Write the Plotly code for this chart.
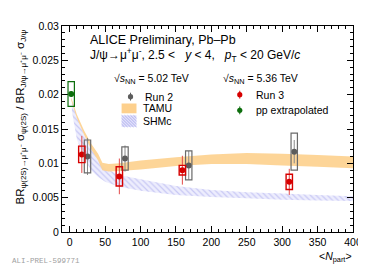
import plotly.graph_objects as go

# ---------------- data ----------------
run2_npart = [25, 78, 168, 317]
run2_val = [0.0110, 0.0107, 0.0097, 0.0117]
run2_stat = [0.0027, 0.0019, 0.0021, 0.0017]
run2_sys = [0.0024, 0.0017, 0.0021, 0.0027]

run3_npart = [17, 70, 159, 310]
run3_val = [0.0113, 0.0081, 0.0090, 0.0073]
run3_stat = [0.0027, 0.0026, 0.0021, 0.0019]
run3_sys = [0.0012, 0.0014, 0.0007, 0.0011]

pp_npart = [2]
pp_val = [0.0201]
pp_stat = [0.0004]
pp_sys = [0.0018]

tamu_npart = [2, 10, 20, 30, 40, 46, 55, 70, 100, 150, 200, 250, 300, 350, 400]
tamu_lo = [0.0192, 0.0166, 0.0142, 0.0121, 0.0104, 0.0090, 0.0088, 0.0089, 0.0091,
           0.0096, 0.0099, 0.0099, 0.0097, 0.0095, 0.0093]
tamu_hi = [0.0196, 0.0171, 0.0148, 0.0129, 0.0114, 0.0101, 0.0099, 0.0100, 0.0104,
           0.0109, 0.0113, 0.0115, 0.0114, 0.0112, 0.0110]

shm_npart = [3, 10, 20, 30, 40, 50, 70, 100, 150, 200, 250, 300, 350, 400]
shm_hi = [0.0192, 0.0168, 0.0142, 0.0122, 0.0105, 0.0093, 0.0083, 0.0077, 0.0067,
          0.0061, 0.0058, 0.0056, 0.0054, 0.0052]
shm_lo = [0.0176, 0.0135, 0.0108, 0.0090, 0.0080, 0.0073, 0.0066, 0.0060, 0.0054,
          0.0051, 0.0049, 0.0047, 0.0046, 0.0045]

y_tickvals = [0, 0.005, 0.01, 0.015, 0.02, 0.025, 0.03]
y_ticktext = ["0", "0.005", "0.01", "0.015", "0.02", "0.025", "0.03"]
x_tickvals = [0, 50, 100, 150, 200, 250, 300, 350, 400]

# ---------------- styles ----------------
W, H = 366, 264
ML, MR, MT, MB = 54, 19, 14, 40
PW, PH = W - ML - MR, H - MT - MB
FONT = "Liberation Sans, Arial, Helvetica, sans-serif"

GRAY = "#5c5c5c"
GRAY_BOX = "#6a6a6a"
RED = "#d60000"
RED_BAR = "#e34a4a"
GREEN = "#0d6e0d"
ORANGE = "#fdd08d"
BLUE_FG = "#a4a4ec"
BLUE_BG = "rgba(222,222,250,0.55)"
BOX_HW = 4.5


def px(xp):
    return (xp - ML) / PW


def py(yp):
    return (H - MB - yp) / PH


fig = go.Figure()

# SHMc band (hatched)
fig.add_trace(go.Scatter(
    x=shm_npart + shm_npart[::-1], y=shm_hi + shm_lo[::-1],
    fill="toself", mode="none", fillcolor=BLUE_BG,
    fillpattern=dict(shape="\\", fgcolor=BLUE_FG, bgcolor=BLUE_BG, size=4, solidity=0.3),
    hoverinfo="skip", showlegend=False))

# TAMU band
fig.add_trace(go.Scatter(
    x=tamu_npart + tamu_npart[::-1], y=tamu_hi + tamu_lo[::-1],
    fill="toself", mode="none", fillcolor=ORANGE, opacity=0.9,
    hoverinfo="skip", showlegend=False))

shapes = []


def sys_boxes(xs, ys, ss, color, width):
    for x, y, s in zip(xs, ys, ss):
        shapes.append(dict(type="rect", xref="x", yref="y",
                           x0=x - BOX_HW, x1=x + BOX_HW, y0=y - s, y1=y + s,
                           line=dict(color=color, width=width), fillcolor="rgba(0,0,0,0)"))


sys_boxes(run2_npart, run2_val, run2_sys, GRAY_BOX, 1.2)
sys_boxes(run3_npart, run3_val, run3_sys, RED, 1.4)
sys_boxes(pp_npart, pp_val, pp_sys, GREEN, 1.2)

fig.add_trace(go.Scatter(
    x=run2_npart, y=run2_val, mode="markers",
    marker=dict(color=GRAY, size=6),
    error_y=dict(type="data", array=run2_stat, color="#8a8a8a", thickness=1, width=0),
    showlegend=False))
fig.add_trace(go.Scatter(
    x=run3_npart, y=run3_val, mode="markers",
    marker=dict(color=RED, size=6),
    error_y=dict(type="data", array=run3_stat, color=RED_BAR, thickness=1, width=0),
    showlegend=False))
fig.add_trace(go.Scatter(
    x=pp_npart, y=pp_val, mode="markers",
    marker=dict(color=GREEN, size=6),
    error_y=dict(type="data", array=pp_stat, color=GREEN, thickness=1, width=0),
    showlegend=False))

# ---------------- legend (drawn by hand) ----------------
shapes.append(dict(type="rect", xref="paper", yref="paper",
                   x0=px(114), x1=px(129), y0=py(103), y1=py(93),
                   line=dict(width=0), fillcolor=ORANGE))
shapes.append(dict(type="rect", xref="paper", yref="paper",
                   x0=px(114), x1=px(129), y0=py(117), y1=py(105),
                   line=dict(width=0), fillcolor="rgba(222,222,250,0.9)"))
for k in range(-3, 6):
    xa = 114 + k * 3
    xb = xa + 12
    x0, y0, x1, y1 = xa, 105, xb, 117
    if x0 < 114:
        y0 = 105 + (114 - x0); x0 = 114
    if x1 > 129:
        y1 = 117 - (x1 - 129); x1 = 129
    if x1 > x0 and y1 > y0:
        shapes.append(dict(type="line", xref="paper", yref="paper",
                           x0=px(x0), y0=py(y0), x1=px(x1), y1=py(y1),
                           line=dict(color=BLUE_FG, width=0.8)))

for (cx, cy, col) in [(123, 86, GRAY), (233, 84, RED), (233, 100, GREEN)]:
    shapes.append(dict(type="line", xref="paper", yref="paper",
                       x0=px(cx), x1=px(cx), y0=py(cy - 4), y1=py(cy + 4),
                       line=dict(color=col, width=1)))
    shapes.append(dict(type="circle", xref="paper", yref="paper",
                       xsizemode="pixel", ysizemode="pixel",
                       xanchor=px(cx), yanchor=py(cy),
                       x0=-2.6, x1=2.6, y0=-2.6, y1=2.6,
                       line=dict(width=0), fillcolor=col))

annotations = []


def txt(text, xp, yp, size, xanchor="left", color="black", font=FONT, angle=0):
    annotations.append(dict(text=text, xref="paper", yref="paper",
                            x=px(xp), y=py(yp), xanchor=xanchor, yanchor="middle",
                            showarrow=False, textangle=angle,
                            font=dict(family=font, size=size, color=color)))


txt("ALICE Preliminary, Pb–Pb", 80, 28, 12.5)
txt("J/ψ→μ<sup>+</sup>μ<sup>-</sup>, 2.5 &lt;&nbsp;&nbsp; <i>y</i> &lt; 4,&nbsp;&nbsp; <i>p</i><sub>T</sub> &lt; 20 GeV/<i>c</i>",
    80, 44, 12)
txt("√<i>s</i><sub>NN</sub> = 5.02 TeV", 104, 68, 10.5)
txt("√<i>s</i><sub>NN</sub> = 5.36 TeV", 214, 68, 10.5)
txt("Run 2", 136, 86, 10.5)
txt("TAMU", 134, 98, 10.5)
txt("SHMc", 134, 111, 10.5)
txt("Run 3", 247, 84, 10.5)
txt("pp extrapolated", 247, 100, 10.5)
txt("&lt;<i>N</i><sub>part</sub>&gt;", 348, 249, 10.5, xanchor="right")
txt("ALI-PREL-599771", 2, 254, 7.5, color="#a0a0a0",
    font="Liberation Mono, DejaVu Sans Mono, monospace")
annotations.append(dict(
    text="BR<sub>ψ(2S)→μ⁺μ⁻</sub> σ<sub>ψ(2S)</sub> / BR<sub>J/ψ→μ⁺μ⁻</sub> σ<sub>J/ψ</sub>",
    xref="paper", yref="paper", x=px(13), y=py(107), xanchor="center", yanchor="middle",
    showarrow=False, textangle=-90, font=dict(family=FONT, size=11.5, color="black")))

axis_common = dict(showline=True, linecolor="black", linewidth=1, mirror="allticks",
                   ticks="inside", ticklen=6, tickwidth=1, tickcolor="black",
                   showgrid=False, zeroline=False,
                   tickfont=dict(family=FONT, size=10.5, color="black"))

fig.update_layout(
    width=W, height=H,
    margin=dict(l=ML, r=MR, t=MT, b=MB, pad=0),
    paper_bgcolor="white", plot_bgcolor="white",
    showlegend=False,
    shapes=shapes, annotations=annotations,
    xaxis=dict(range=[-11, 400], tickvals=x_tickvals,
               minor=dict(ticks="inside", dtick=10, tick0=0, ticklen=3, tickcolor="black"),
               **axis_common),
    yaxis=dict(range=[0, 0.03], tickvals=y_tickvals, ticktext=y_ticktext,
               minor=dict(ticks="inside", dtick=0.001, tick0=0, ticklen=3, tickcolor="black"),
               **axis_common),
)

fig.write_html("out.html")
